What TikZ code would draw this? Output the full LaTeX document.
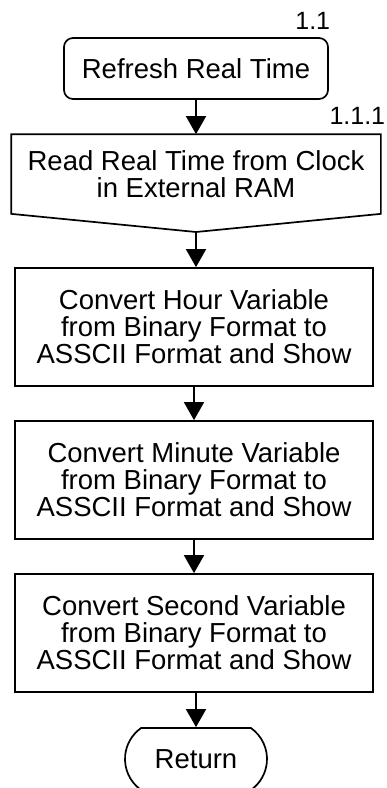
\documentclass[tikz,border=0pt]{standalone}
\usepackage{fontspec}
\setmainfont{Liberation Sans}
\usetikzlibrary{arrows.meta,shapes.misc}

\begin{document}
\begin{tikzpicture}[x=1pt,y=-1pt,
                    line width=1.7pt,
                    font=\fontsize{27.5}{27}\selectfont,
                    boxND/.style={rectangle,
                                  draw=black,
                                  minimum width=358pt,
                                  minimum height=118pt,
                                  inner sep=0pt,
                                  align=center},
                    refND/.style={rectangle,
                                  rounded corners=9pt,
                                  draw=black,
                                  minimum width=264pt,
                                  minimum height=61pt,
                                  inner sep=0pt,
                                  align=center},
                    retND/.style={rounded rectangle,
                                  rounded rectangle arc length=110,
                                  draw=black,
                                  minimum width=142pt,
                                  minimum height=62pt,
                                  inner sep=0pt,
                                  align=center},
                    numND/.style={font=\fontsize{25}{25}\selectfont,
                                  inner sep=0pt,
                                  anchor=east},
                    arw/.style={-{Triangle[length=18pt,width=20pt]}}]
            \useasboundingbox (0,0) rectangle (386,788);
            \node[refND](refresh) at (196,68.5) {Refresh Real Time};
            \node[numND](n11)     at (331,21)   {1.1};
            \node[rectangle,minimum width=368pt,minimum height=78pt,
                  inner sep=0pt,align=center](read) at (196,174)
                  {Read Real Time from Clock\\in External RAM};
            \coordinate (readtip) at (196,232);
            \draw (read.north west) -- (read.north east) -- (read.south east)
                  -- (readtip) -- (read.south west) -- cycle;
            \node[numND](n111)    at (386,116)  {1.1.1};
            \node[boxND](hour)    at (194,327)
                  {Convert Hour Variable\\from Binary Format to\\ASSCII Format and Show};
            \node[boxND](minute)  at (194,480)
                  {Convert Minute Variable\\from Binary Format to\\ASSCII Format and Show};
            \node[boxND](second)  at (194,633)
                  {Convert Second Variable\\from Binary Format to\\ASSCII Format and Show};
            \node[retND](ret)     at (196,759)  {Return};
            \path
                (refresh) edge [arw] (read)
                (readtip) edge [arw] (readtip |- hour.north)
                (hour)    edge [arw] (hour.south |- minute.north)
                (minute)  edge [arw] (minute.south |- second.north)
                (second.south -| ret.north) edge [arw] (ret)
                ;
        \end{tikzpicture}
\end{document}
